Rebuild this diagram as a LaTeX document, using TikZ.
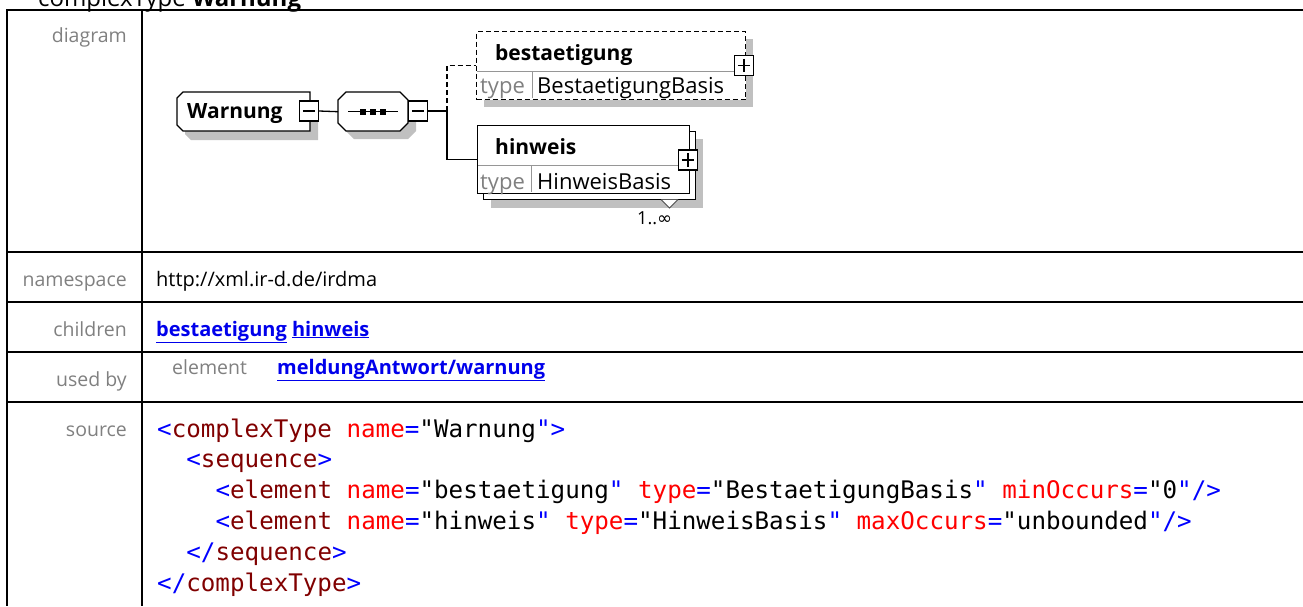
\documentclass[tikz,border=0pt]{standalone}
\usepackage{fontspec}
\setmainfont{Open Sans}
\newfontfamily\codefont{DejaVu Sans Mono}
\newfontfamily\symfont{DejaVu Sans}
\definecolor{lblgray}{RGB}{128,128,128}
\definecolor{linkblue}{RGB}{0,0,235}
\definecolor{tagred}{RGB}{128,0,0}
\definecolor{attred}{RGB}{255,0,0}
\definecolor{symblue}{RGB}{0,0,255}
\definecolor{shadowgray}{RGB}{192,192,192}
\definecolor{divgray}{RGB}{150,150,150}
\newcommand\SB[1]{\textcolor{symblue}{#1}}
\newcommand\TG[1]{\textcolor{tagred}{#1}}
\newcommand\AT[1]{\textcolor{attred}{#1}}
\begin{document}
\begin{tikzpicture}[x=1pt,y=-1pt,
  tline/.style={line width=2.5pt},
  lbl/.style={anchor=base east,inner sep=0,text=lblgray,font=\fontsize{19.5}{22}\selectfont},
  val/.style={anchor=base west,inner sep=0,font=\fontsize{20}{22}\selectfont},
  lnk/.style={anchor=base west,inner sep=0,text=linkblue,font=\fontsize{20}{22}\selectfont\bfseries},
  code/.style={anchor=base west,inner sep=0,font=\codefont\fontsize{24.2}{28}\selectfont},
  dline/.style={line width=1.3pt},
  nm/.style={anchor=base west,inner sep=0,font=\fontsize{21}{24}\selectfont\bfseries},
  tp/.style={anchor=base west,inner sep=0,font=\fontsize{22}{24}\selectfont},
  tplbl/.style={anchor=base west,inner sep=0,text=lblgray,font=\fontsize{22}{24}\selectfont},
  ebox/.style={draw,line width=1.3pt,fill=white,anchor=north west,inner sep=0},
  pmbox/.style={draw,line width=1.3pt,fill=white,minimum width=19,minimum height=20,inner sep=0},
]
\useasboundingbox (0,0) rectangle (1303,606);
% title
\node[anchor=base west,inner sep=0,font=\fontsize{24}{28}\selectfont] (title) at (38,6) {complexType \textbf{Warnung}};
% table
\draw[tline] (1303,10) -- (7,10) -- (7,606);
\draw[tline] (142,10) -- (142,606);
\foreach \yy in {252,302,352,402} \draw[tline] (7,\yy) -- (1303,\yy);
% labels
\node[lbl] (l1) at (127,42) {diagram};
\node[lbl] (l2) at (127,286) {namespace};
\node[lbl] (l3) at (127,336) {children};
\node[lbl] (l4) at (127,386) {used by};
\node[lbl] (l5) at (127,436) {source};
% values
\node[val] (v2) at (156,286) {http://xml.ir-d.de/irdma};
\node[lnk] (v3) at (156,336) {\underline{bestaetigung} \underline{hinweis}};
\node[val,text=lblgray,font=\fontsize{19.5}{22}\selectfont] (v4a) at (172,374) {element};
\node[lnk] (v4b) at (277,374) {\underline{meldungAntwort/warnung}};
% source code
\node[code] (c1) at (157,437) {\SB{<}\TG{complexType} \AT{name}\SB{=}"Warnung\SB{">}};
\node[code] (c2) at (186.2,467.8) {\SB{<}\TG{sequence}\SB{>}};
\node[code] (c3) at (215.4,498.6) {\SB{<}\TG{element} \AT{name}\SB{=}"bestaetigung\SB{"} \AT{type}\SB{=}"BestaetigungBasis\SB{"} \AT{minOccurs}\SB{=}"0\SB{"/>}};
\node[code] (c4) at (215.4,529.4) {\SB{<}\TG{element} \AT{name}\SB{=}"hinweis\SB{"} \AT{type}\SB{=}"HinweisBasis\SB{"} \AT{maxOccurs}\SB{=}"unbounded\SB{"/>}};
\node[code] (c5) at (186.2,560.2) {\SB{</}\TG{sequence}\SB{>}};
\node[code] (c6) at (157,591) {\SB{</}\TG{complexType}\SB{>}};
% ---------------- diagram ----------------
% Warnung complexType node
\fill[shadowgray] (191,100) -- (318,100) -- (318,140) -- (191,140) -- (185,134) -- (185,106) -- cycle;
\draw[dline,fill=white] (183,92) -- (310,92) -- (310,131) -- (183,131) -- (177,125) -- (177,98) -- cycle;
\node[inner sep=0,minimum width=133,minimum height=39,anchor=north west] (warnung) at (177,92) {};
\node[nm] (warnungtxt) at (187,118) {Warnung};
\node[pmbox] (m1) at (309,111) {};
\draw[dline] ([xshift=4]m1.west) -- ([xshift=-4]m1.east);
% sequence node
\fill[shadowgray] (354,100) -- (408,100) -- (416,108) -- (416,131) -- (408,139) -- (354,139) -- (346,131) -- (346,108) -- cycle;
\draw[dline,fill=white] (346,92) -- (400,92) -- (408,100) -- (408,123) -- (400,131) -- (346,131) -- (338,123) -- (338,100) -- cycle;
\node[inner sep=0,minimum width=70,minimum height=39,anchor=north west] (seq) at (338,92) {};
\draw[dline] (348,111.5) -- (398,111.5);
\foreach \xx in {363,373,383} \fill ([shift={(-3,-3)}]\xx,111.5) rectangle ++(6,6);
\node[pmbox] (m2) at (418,111) {};
\draw[dline] ([xshift=4]m2.west) -- ([xshift=-4]m2.east);
% connectors
\coordinate (j) at (447,111);
\draw[dline] (m1.east) -- (seq.west);
\draw[dline] (m2.east) -- (j);
% bestaetigung
\fill[shadowgray] (484,39) rectangle (753,107);
\node[ebox,dashed,dash pattern=on 5pt off 3pt,minimum width=269,minimum height=68] (best) at (476,31) {};
\draw[divgray,line width=1pt] (477,71) -- (744,71);
\draw[divgray,line width=1pt] (532,71) -- (532,98);
\draw[dline,dashed,dash pattern=on 5pt off 3pt] (j) |- (best.west);
\node[nm] (besttxt) at (495,60) {bestaetigung};
\node[tplbl] (besttype) at (480,93) {type};
\node[tp] (bestbasis) at (537,93) {BestaetigungBasis};
\node[pmbox] (p1) at (744,65.5) {};
\draw[dline] ([xshift=4]p1.west) -- ([xshift=-4]p1.east) ([yshift=-4]p1.north) -- ([yshift=4]p1.south);
% hinweis
\fill[shadowgray] (491,139) rectangle (703,208);
\node[ebox,minimum width=212,minimum height=68] (hinback) at (483,131) {};
\node[ebox,minimum width=212,minimum height=68] (hinweis) at (477,125) {};
\draw[divgray,line width=1pt] (478,165) -- (688,165);
\draw[divgray,line width=1pt] (531,165) -- (531,192);
\draw[dline] (j) |- (hinweis.west);
\node[nm] (hintxt) at (495,154) {hinweis};
\node[tplbl] (hintype) at (480,189) {type};
\node[tp] (hinbasis) at (537,189) {HinweisBasis};
\node[pmbox] (p2) at (688,160) {};
\draw[dline] ([xshift=4]p2.west) -- ([xshift=-4]p2.east) ([yshift=-4]p2.north) -- ([yshift=4]p2.south);
\draw[line width=1pt,draw=black!70,fill=white] (661,199.5) -- (669.5,208) -- (678,199.5);
\node[anchor=base west,inner sep=0,font=\fontsize{18}{20}\selectfont] (mult) at (637,224) {1..{\symfont ∞}};
\end{tikzpicture}
\end{document}
